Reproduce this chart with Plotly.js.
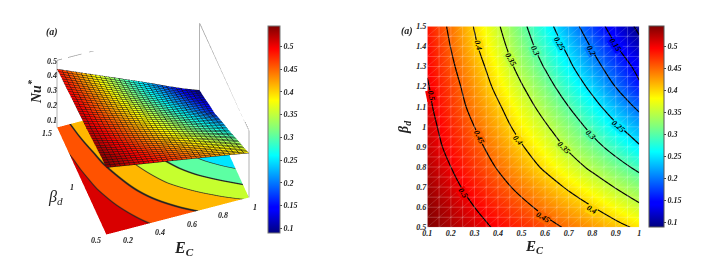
<!DOCTYPE html>
<html><head><meta charset="utf-8">
<script src="https://cdn.plot.ly/plotly-3.0.1.min.js"></script>
<style>html,body{margin:0;padding:0;background:#fff}#c{width:726px;height:262px}svg.main-svg{opacity:0.999}</style>
</head><body><div id="c"></div>
<script>
const ec = [0.1,0.2,0.3,0.4,0.5,0.6,0.7,0.8,0.9,1];
const betaD = [0.5,0.6,0.7,0.8,0.9,1.0,1.1,1.2,1.3,1.4,1.5];
const nuB050 = [.546,.529,.512,.495,.479,.462,.445,.428,.411,.393];
const nuB060 = [.541,.521,.500,.480,.460,.440,.421,.401,.380,.357];
const nuB070 = [.534,.510,.487,.463,.440,.418,.395,.372,.348,.325];
const nuB080 = [.526,.500,.473,.447,.420,.394,.368,.342,.316,.290];
const nuB090 = [.518,.490,.462,.432,.403,.374,.344,.314,.285,.254];
const nuB100 = [.514,.481,.450,.418,.386,.355,.323,.289,.256,.224];
const nuB110 = [.508,.472,.438,.405,.370,.335,.300,.264,.228,.191];
const nuB120 = [.503,.466,.428,.390,.353,.316,.278,.240,.199,.156];
const nuB130 = [.496,.457,.418,.377,.336,.297,.258,.216,.177,.137];
const nuB140 = [.493,.449,.406,.365,.322,.281,.240,.196,.152,.112];
const nuB150 = [.486,.442,.398,.354,.310,.266,.221,.174,.130,.091];
const nu = [nuB050,nuB060,nuB070,nuB080,nuB090,nuB100,nuB110,nuB120,nuB130,nuB140,nuB150];
const cbTicks = [0.1,0.15,0.2,0.25,0.3,0.35,0.4,0.45,0.5];
const cbTickText = ['0.1','0.15','0.2','0.25','0.3','0.35','0.4','0.45','0.5'];
const floorLevels = [0.08,0.25,0.3,0.35,0.4,0.45,0.5,0.6];
const floorColors = ['#00e5ff','#00e5ff','#5cffa3','#c6ff2e','#ffb700','#ff5200','#d90000'];
const meshE = [0.1,0.15,0.2,0.25,0.3,0.35,0.4,0.45,0.5,0.55,0.6,0.65,0.7,0.75,0.8,0.85,0.9,0.95,1];
const meshB = [0.5,0.55,0.6,0.65,0.7,0.75,0.8,0.85,0.9,0.95,1,1.05,1.1,1.15,1.2,1.25,1.3,1.35,1.4,1.45,1.5];
const labelE = [.118,.25,.321,.592,.314,.486,.798,.455,.679,.557,.793,.66,.911,.795,.897];
const labelB = [1.158,.672,.948,.55,1.407,.934,.591,1.336,.898,1.379,.964,1.412,1.0,1.379,1.407];
const labelV = ['0.5','0.5','0.45','0.45','0.4','0.4','0.4','0.35','0.35','0.3','0.3','0.25','0.25','0.2','0.15'];
const labelAngle = [78,55,65,30,75,50,30,60,45,65,45,60,40,60,55];
const tickE3d = [0.2,0.4,0.6,0.8,1];
const tickB3d = [0.5,1,1.5];
const tickZ3d = [0.1,0.2,0.3,0.4,0.5];
const zMin = 0.09, zMax = 0.546, floorMin = 0.08, floorMax = 0.6, floorZ = 0.091;
const jet = [[0,'#00007f'],[0.11,'#0000ff'],[0.125,'#0000ff'],[0.375,'#00ffff'],[0.5,'#7fff7f'],[0.64,'#ffff00'],[0.89,'#ff0000'],[1,'#7f0000']];
const W=726,H=262;
const serif = 'Liberation Serif';
const tf = {family:serif,size:8,color:'#222',style:'italic',weight:'bold'};
const hex=c=>[1,3,5].map(i=>parseInt(c.substr(i,2),16));
function jetAt(t){for(let i=1;i<jet.length;i++){if(t<=jet[i][0]){const a=jet[i-1],b=jet[i],f=(t-a[0])/(b[0]-a[0]||1),A=hex(a[1]),B=hex(b[1]);return 'rgb('+A.map((v,k)=>Math.round(v+(B[k]-v)*f)).join(',')+')';}}return jet[jet.length-1][1];}
const norm=v=>(v-zMin)/(zMax-zMin);
const fnorm=v=>(v-floorMin)/(floorMax-floorMin);
const scale2=[];
floorColors.forEach((c,i)=>{
  const lo=fnorm(floorLevels[i]), hi=fnorm(floorLevels[i+1]);
  if(i){scale2.push([lo,'#222']);scale2.push([lo+0.005,'#222']);scale2.push([lo+0.0051,c]);}
  else scale2.push([lo,c]);
  scale2.push([hi,c]);
});
const mx=[],my=[],dx=[],dy=[];
meshE.forEach(e=>{mx.push(e,e,null);my.push(0.5,1.5,null);});
meshB.forEach(b=>{mx.push(0.1,1,null);my.push(b,b,null);});
for(let i=0;i+1<meshE.length;i++)for(let j=0;j+1<meshB.length;j++){dx.push(meshE[i],meshE[i+1],null);dy.push(meshB[j],meshB[j+1],null);}
const frameX=[0.1,0.1,1,1,1,1,1],frameY=[1.5,1.5,1.5,1.5,1.5,0.5,0.5],frameZ=[zMin,zMax,zMax,zMin,zMax,zMax,zMin];
const traces=[
 {type:'surface',scene:'scene',x:ec,y:betaD,z:nu.map(r=>r.map(()=>floorZ)),surfacecolor:nu,cmin:floorMin,cmax:floorMax,
  colorscale:scale2,showscale:false,lighting:{ambient:1,diffuse:0,specular:0,roughness:1,fresnel:0},hoverinfo:'skip'},
 {type:'surface',scene:'scene',x:ec,y:betaD,z:nu,cmin:zMin,cmax:zMax,colorscale:jet,
  lighting:{ambient:1,diffuse:0,specular:0,roughness:1,fresnel:0},
  contours:{x:{show:true,start:0.1,end:1,size:0.03,color:'#111',width:1},y:{show:true,start:0.5,end:1.5,size:0.025,color:'#111',width:1}},
  colorbar:{x:267.5/W,xanchor:'left',y:1-232.7/H,yanchor:'bottom',lenmode:'pixels',len:207,thicknessmode:'pixels',thickness:12,xpad:0,ypad:0,
   tickvals:cbTicks,ticktext:cbTickText,tickfont:tf,ticks:'outside',ticklen:2,outlinecolor:'#777',outlinewidth:1}},
 {type:'scatter3d',scene:'scene',mode:'lines',x:frameX,y:frameY,z:frameZ,line:{color:'#999',width:1.5},hoverinfo:'skip',showlegend:false},
 {type:'heatmap',xaxis:'x',yaxis:'y',x:ec,y:betaD,z:nu,zmin:zMin,zmax:zMax,colorscale:jet,zsmooth:'best',
  colorbar:{x:649/W,xanchor:'left',y:1-227/H,yanchor:'bottom',lenmode:'pixels',len:201,thicknessmode:'pixels',thickness:15,xpad:0,ypad:0,
   tickvals:cbTicks,ticktext:cbTickText,tickfont:tf,ticks:'outside',ticklen:2,outlinecolor:'#555',outlinewidth:1}},
 {type:'scatter',xaxis:'x',yaxis:'y',mode:'lines',x:mx,y:my,line:{color:'rgba(255,255,255,0.22)',width:1},hoverinfo:'skip',showlegend:false},
 {type:'scatter',xaxis:'x',yaxis:'y',mode:'lines',x:dx,y:dy,line:{color:'rgba(255,255,255,0.15)',width:1},hoverinfo:'skip',showlegend:false},
 {type:'contour',xaxis:'x',yaxis:'y',x:ec,y:betaD,z:nu,showscale:false,
  autocontour:false,contours:{coloring:'none',start:0.1,end:0.5,size:0.05},line:{color:'#000',width:1.2,smoothing:1}}
];
const ax3=(range)=>({range:range,showticklabels:false,showgrid:false,zeroline:false,showline:false,showbackground:false,showspikes:false,title:{text:''},ticks:''});
const T=(text,x,y,size,extra)=>Object.assign({text:text,x:x/W,y:1-y/H,xref:'paper',yref:'paper',xanchor:'center',yanchor:'middle',showarrow:false,font:{family:serif,size:size,style:'italic',weight:'bold',color:'#222'}},extra||{});
const anns=[
  T('(a)',52,32,10),T('(a)',407,31,10),
  T('Nu<sup>*</sup>',35,92,14,{textangle:-90}),
  T('β<sub>d</sub>',55,197,16,{font:{family:serif,size:16,style:'italic',color:'#222'}}),
  T('E<sub>C</sub>',184,248,16),
  T('β<sub>d</sub>',404,127,14,{textangle:-90}),
  T('E<sub>C</sub>',534,247,15)
];
labelV.forEach((v,i)=>anns.push({text:v,x:labelE[i],y:labelB[i],xref:'x',yref:'y',showarrow:false,textangle:labelAngle[i],bgcolor:jetAt(norm(parseFloat(v))),borderpad:0,font:{family:serif,size:8,style:'italic',weight:'bold',color:'#000'}}));
const sa=[];
const S3=(x,y,z,t,sx,sy)=>sa.push({x:x,y:y,z:z,text:t,showarrow:false,xshift:sx,yshift:sy,font:tf});
tickE3d.forEach(e=>S3(e,0.5,zMin,String(e),6,-10));
tickB3d.forEach(b=>S3(0.1,b,zMin,String(b),-10,-6));
tickZ3d.forEach(z=>S3(0.1,1.5,z,String(z),-5,6));
const layout={
 width:W,height:H,margin:{l:0,r:0,t:0,b:0},paper_bgcolor:'#fff',plot_bgcolor:'#fff',showlegend:false,
 scene:{domain:{x:[0,306/W],y:[4/H,1]},aspectmode:'manual',aspectratio:{x:1.17,y:1.17,z:0.79},annotations:sa,
  camera:{projection:{type:'orthographic'},up:{x:0,y:0,z:1},center:{x:0,y:0,z:0},eye:{x:-0.215*2,y:-0.622*2,z:0.75*2}},
  xaxis:ax3([0.1,1]),yaxis:ax3([0.5,1.5]),zaxis:ax3([zMin,zMax])},
 xaxis:{domain:[427.3/W,639.3/W],range:[0.1,1],tickvals:[0.1,0.2,0.3,0.4,0.5,0.6,0.7,0.8,0.9,1],ticktext:['0.1','0.2','0.3','0.4','0.5','0.6','0.7','0.8','0.9','1'],tickfont:tf,ticks:'',showgrid:false,zeroline:false,showline:false,anchor:'y'},
 yaxis:{domain:[1-227.3/H,1-26.3/H],range:[0.5,1.5],tickvals:[0.5,0.6,0.7,0.8,0.9,1,1.1,1.2,1.3,1.4,1.5],ticktext:['0.5','0.6','0.7','0.8','0.9','1','1.1','1.2','1.3','1.4','1.5'],tickfont:tf,ticks:'',showgrid:false,zeroline:false,showline:false,anchor:'x'},
 annotations:anns
};
Plotly.newPlot('c',traces,layout,{displayModeBar:false});
</script></body></html>
